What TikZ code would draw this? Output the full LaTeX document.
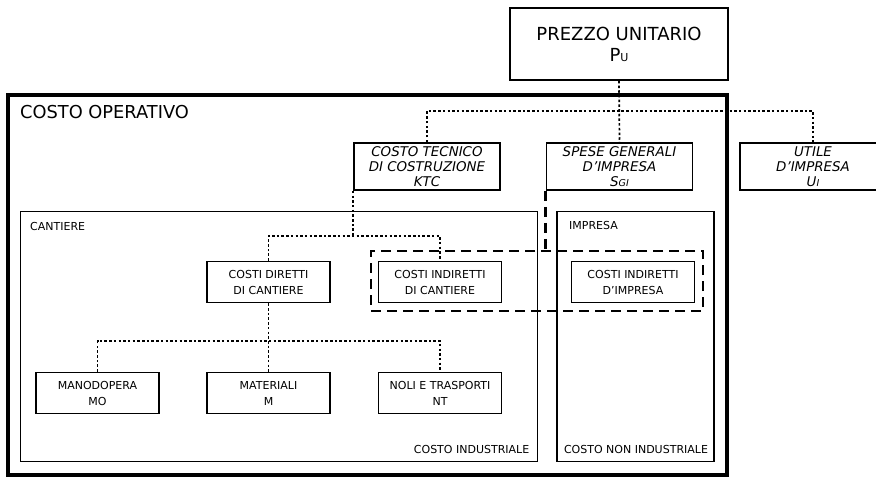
\documentclass[tikz,border=0pt]{standalone}
\usepackage{fontspec}
\setmainfont{DejaVu Sans}
\begin{document}
\begin{tikzpicture}[x=1pt,y=-1pt,
  area/.style={draw,line width=1.7pt,inner sep=0pt},
  opbox/.style={draw,line width=3.4pt,inner sep=0pt},
  smallbox/.style={draw,line width=1.7pt,inner sep=0pt,align=center,
    minimum width=123pt,minimum height=41pt,font=\fontsize{11}{16}\selectfont},
  topbox/.style={draw,line width=1.7pt,inner sep=0pt,align=center,
    minimum width=146pt,minimum height=47pt,font=\fontsize{13.4}{15}\selectfont\itshape},
  dotline/.style={line width=1.7pt,dash pattern=on 2.5pt off 2.2pt},
  dashline/.style={line width=2.6pt,dash pattern=on 10pt off 6pt},
  lbl/.style={inner sep=0pt,font=\fontsize{11}{13}\selectfont}]
\useasboundingbox (0,0) rectangle (876,477);

% outer box
\node[opbox,minimum width=719pt,minimum height=380pt] (op) at (367.5,285) {};
\node[inner sep=0pt,anchor=base west,font=\fontsize{17.8}{20}\selectfont] (oplbl) at (20,118) {COSTO OPERATIVO};

% area boxes
\node[area,minimum width=517pt,minimum height=250pt] (cant) at (279,336.5) {};
\node[area,minimum width=157pt,minimum height=250pt] (imp) at (635.5,336.5) {};
\node[lbl,anchor=base west] (cantlbl) at (30,230) {CANTIERE};
\node[lbl,anchor=base west] (implbl) at (569,229) {IMPRESA};
\node[lbl,anchor=base east] (indlbl) at (529.5,453) {COSTO INDUSTRIALE};
\node[lbl,anchor=base] (nonlbl) at (636,453) {COSTO NON INDUSTRIALE};

% top level
\node[draw,line width=1.7pt,inner sep=0pt,align=center,minimum width=218pt,minimum height=72pt,
  font=\fontsize{18}{21}\selectfont] (pu) at (619,44) {PREZZO UNITARIO\\P{\fontsize{11}{11}\selectfont U}};

\node[topbox] (ktc) at (427,166.5) {COSTO TECNICO\\DI COSTRUZIONE\\KTC};
\node[topbox] (spese) at (619.5,166.5) {SPESE GENERALI\\D'IMPRESA\\S{\fontsize{9.5}{9.5}\selectfont GI}};
\node[topbox] (utile) at (813,166.5) {UTILE\\D'IMPRESA\\U{\fontsize{9.5}{9.5}\selectfont I}};

% second level
\node[smallbox] (cdir) at (268.5,282) {COSTI DIRETTI\\DI CANTIERE};
\node[smallbox] (cind) at (440,282) {COSTI INDIRETTI\\DI CANTIERE};
\node[smallbox] (cimp) at (633,282) {COSTI INDIRETTI\\D'IMPRESA};

% third level
\node[smallbox] (mano) at (97.5,393) {MANODOPERA\\MO};
\node[smallbox] (mat) at (268.5,393) {MATERIALI\\M};
\node[smallbox] (noli) at (440,393) {NOLI E TRASPORTI\\NT};

% dashed group
\node[draw,dashline,inner sep=0pt,minimum width=332pt,minimum height=60pt] (grp) at (537,281) {};
\draw[dashline] (spese.south west) -- (spese.south west |- grp.north);

% dotted connectors
\coordinate (j1) at (619,111);
\draw[dotline] (pu.south) -- (spese.north);
\draw[dotline] (ktc.north) |- (j1) -| (utile.north);

\coordinate (j2) at (354.5,236);
\draw[dotline] (ktc.south west) -- (ktc.south west |- j2);
\draw[dotline] (cdir.north) |- (j2) -| (cind.north);

\coordinate (j3) at (268.5,341);
\draw[dotline] (cdir.south) -- (j3);
\draw[dotline] (mano.north) |- (j3) -| (noli.north);
\draw[dotline] (j3) -- (mat.north);
\end{tikzpicture}
\end{document}
